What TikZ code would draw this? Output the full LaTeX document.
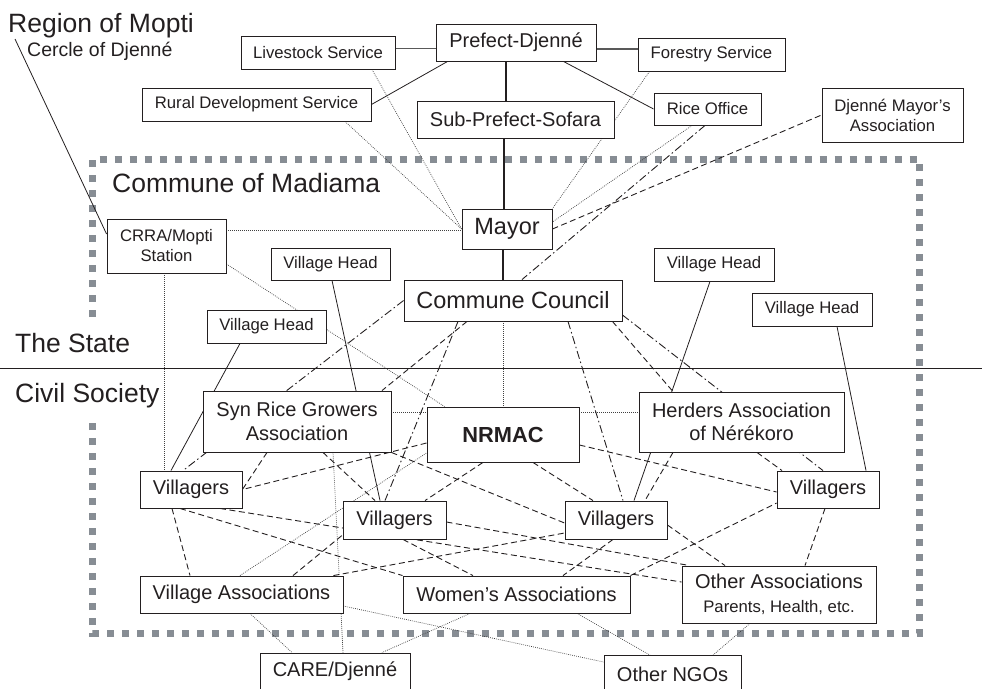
\documentclass[tikz,border=0pt]{standalone}
\usepackage{fontspec}
\setmainfont{Liberation Sans}
\usetikzlibrary{backgrounds}
\definecolor{txt}{HTML}{231F20}
\definecolor{framegray}{HTML}{878D94}
\begin{document}
\begin{tikzpicture}[x=1pt,y=-1pt,
  box/.style={draw=txt, line width=0.9pt, fill=white, inner sep=0pt, align=center, text=txt},
  sm/.style={font=\fontsize{16.7}{20}\selectfont},
  md/.style={font=\fontsize{20}{23.5}\selectfont},
  lg/.style={font=\fontsize{23.5}{27}\selectfont},
  bx/.style 2 args={minimum width=#1pt, minimum height=#2pt},
  lbl/.style={inner sep=0pt, anchor=base west, text=txt},
  gline/.style={draw=black!65, line width=1.8pt},
  sline/.style={draw=txt, line width=0.8pt},
  tline/.style={draw=txt, line width=2.8pt},
  dline/.style={draw=black!75, line width=0.7pt, dash pattern=on 0.8pt off 1.2pt},
  eline/.style={draw=txt, line width=0.9pt, dash pattern=on 6pt off 3.5pt},
  fline/.style={draw=txt, line width=0.9pt, dash pattern=on 8pt off 3pt on 1.5pt off 3pt},
  frame/.style={draw=framegray, line width=7pt, dash pattern=on 7pt off 8pt}
]
\useasboundingbox (0,0) rectangle (982,688);

% boxes
\node[box,sm,bx={154}{33}] (liv) at (318,52.5) {Livestock Service};
\node[box,md,bx={160}{37}] (pref) at (516,42.5) {Prefect-Djenné};
\node[box,sm,bx={147}{33}] (fors) at (711.5,54.5) {Forestry Service};
\node[box,sm,bx={229}{33}] (rur) at (256.5,104.5) {Rural Development Service};
\node[box,md,bx={197}{37}] (sub) at (515.5,119.5) {Sub-Prefect-Sofara};
\node[box,sm,bx={107}{32}] (rice) at (707.5,109) {Rice Office};
\node[box,sm,bx={141}{54}] (dma) at (892.5,115) {Djenné Mayor’s\\Association};
\node[box,lg,bx={90}{40}] (mayor) at (507,229) {Mayor};
\node[box,sm,bx={119}{54}] (crra) at (166.5,246) {CRRA/Mopti\\Station};
\node[box,sm,bx={119}{32}] (vha) at (330.5,264) {Village Head};
\node[box,lg,bx={218}{41}] (cc) at (513,300.5) {Commune Council};
\node[box,sm,bx={119}{33}] (vhb) at (266.5,326.5) {Village Head};
\node[box,sm,bx={120}{33}] (vhc) at (714,264.5) {Village Head};
\node[box,sm,bx={120}{33}] (vhd) at (812,309.5) {Village Head};
\node[box,md,bx={188}{61}] (srg) at (297,421.5) {Syn Rice Growers\\Association};
\node[box,bx={152}{55},font=\fontsize{21.8}{25}\selectfont\bfseries] (nrmac) at (503,434.5) {NRMAC};
\node[box,md,bx={205}{60}] (herd) at (741.5,422) {Herders Association\\of Nérékoro};
\node[box,md,bx={102}{37}] (vL) at (191,489.5) {Villagers};
\node[box,md,bx={103}{38}] (vCL) at (394.5,520) {Villagers};
\node[box,md,bx={102}{38}] (vCR) at (616,520) {Villagers};
\node[box,md,bx={102}{37}] (vR) at (828,489.5) {Villagers};
\node[box,md,bx={203}{37}] (va) at (241.5,594.5) {Village Associations};
\node[box,md,bx={227}{37}] (wom) at (516.5,594.5) {Women’s Associations};
\node[box,md,bx={194}{57}] (oa) at (779,594.5) {Other Associations\\{\fontsize{16.7}{20}\selectfont Parents, Health, etc.}};
\node[box,md,bx={150}{37}] (care) at (335,671.5) {CARE/Djenné};
\node[box,md,bx={137}{37}] (ngo) at (672.5,674) {Other NGOs};

% labels
\node[lbl,font=\fontsize{26.5}{30}\selectfont] (reg) at (8,32) {Region of Mopti};
\node[lbl,font=\fontsize{19.5}{23}\selectfont] (cer) at (27,56) {Cercle of Djenné};
\node[lbl,font=\fontsize{26.5}{30}\selectfont] (com) at (112,192) {Commune of Madiama};
\node[lbl,font=\fontsize{26.5}{30}\selectfont] (st) at (15,352) {The State};
\node[lbl,font=\fontsize{26.5}{30}\selectfont] (cs) at (15,402) {Civil Society};
\coordinate (rm) at (15,39);

\begin{scope}[on background layer]
% commune frame and state/civil society divider
\draw[frame] (92.5,317) -- (92.5,159) -- (919.5,159) -- (919.5,633.5) -- (92.5,633.5) -- (92.5,422);
\draw[sline] (0,368) -- (982,368);

% grey solid
\draw[gline] ([yshift=-6pt]pref.west) -- ([yshift=-6pt]pref.west -| liv.east);
\draw[gline] ([yshift=-6.5pt]pref.east) -- ([yshift=-6.5pt]pref.east -| fors.west);

% thin solid
\draw[sline] ([xshift=12pt]pref.south west) -- (rur.east);
\draw[sline] ([xshift=-33pt]pref.south east) -- (rice.west);
\draw[sline] ([xshift=1.5pt]vha.south) -- ([xshift=-14.5pt]vCL.north);
\draw[sline] ([xshift=-26.5pt]vhb.south) -- ([xshift=-20pt]vL.north);
\draw[sline] ([xshift=-4pt]vhc.south) -- ([xshift=18pt]vCR.north);
\draw[sline] ([xshift=25pt]vhd.south) -- ([xshift=38pt]vR.north);
\draw[sline] (rm) -- ([yshift=12pt]crra.west);

% thick
\draw[tline] ([xshift=-10pt]pref.south) -- ([xshift=-9.5pt]sub.north);
\draw[tline] ([xshift=-11.5pt]sub.south) -- ([xshift=-3pt]mayor.north);
\draw[tline] ([xshift=-4pt]mayor.south) -- ([xshift=-10pt]cc.north);

% dotted
\draw[dline] ([xshift=54pt]liv.south) -- (mayor.west);
\draw[dline] ([xshift=88.5pt]rur.south) -- (mayor.west);
\draw[dline] ([yshift=16pt]crra.east) -- ([yshift=16pt]crra.east -| mayor.west);
\draw[dline] ([xshift=12pt]fors.south west) -- (mayor.north east);
\draw[dline] ([xshift=-15.5pt]rice.south) -- ([yshift=7pt]mayor.east);
\draw[dline] ([xshift=-10pt]cc.south) -- ([xshift=-10pt]cc.south |- nrmac.north);
\draw[dline] ([yshift=9.5pt]srg.east) -- ([yshift=9.5pt]srg.east -| nrmac.west);
\draw[dline] ([yshift=22.5pt]nrmac.east) -- ([yshift=22.5pt]nrmac.east -| herd.west);
\draw[dline] ([xshift=-2.5pt]crra.south) -- ([xshift=-2.5pt]crra.south |- vL.north);
\draw[dline] ([yshift=-18pt]crra.east) -- ([xshift=18pt]nrmac.north west);
\draw[dline] ([xshift=36pt]srg.south) -- ([xshift=8pt]care.north);
\draw[dline] ([xshift=-1.5pt]va.north) -- ([yshift=-18.5pt]nrmac.west);
\draw[dline] ([xshift=8.5pt]va.south) -- ([xshift=-43pt]care.north);
\draw[dline] ([xshift=-46.5pt]wom.south) -- ([xshift=47pt]care.north);
\draw[dline] ([yshift=-11.5pt]va.east) -- ([yshift=12pt]ngo.west);
\draw[dline] ([xshift=60.5pt]wom.south) -- ([xshift=-22.5pt]ngo.north);
\draw[dline] ([xshift=-29pt]oa.south) -- ([xshift=40.5pt]ngo.north);

% dashed
\draw[eline] (mayor.east) -- (dma.west);
\draw[eline] ([xshift=-46pt]cc.south) -- ([xshift=85pt]srg.north);
\draw[eline] ([yshift=-8.5pt]nrmac.west) -- (vL.east);
\draw[eline] ([xshift=-30pt]srg.south) -- (vL.east);
\draw[eline] (srg.south east) -- ([yshift=-3pt]vCR.west);
\draw[eline] ([xshift=26pt]srg.south) -- ([xshift=-19.5pt]vCL.north);
\draw[eline] ([xshift=-20pt]nrmac.south) -- ([xshift=30.5pt]vCL.north);
\draw[eline] ([xshift=30pt]nrmac.south) -- ([xshift=-23pt]vCR.north);
\draw[eline] ([yshift=-10.5pt]nrmac.east) -- ([yshift=-2.5pt]vR.west);
\draw[eline] ([xshift=-10pt]cc.south east) -- ([xshift=-68.5pt]herd.north);
\draw[eline] ([xshift=15.5pt]herd.south) -- ([xshift=-46pt]vR.north);
\draw[eline] ([xshift=-68.5pt]herd.south) -- ([xshift=29pt]vCR.north);
\draw[eline] ([xshift=-19pt]vL.south) -- ([xshift=-51.5pt]va.north);
\draw[eline] ([xshift=-11pt]vL.south) -- (wom.north west);
\draw[eline] ([xshift=29pt]vL.south) -- ([yshift=12.5pt]oa.west);
\draw[eline] ([yshift=-2pt]vCL.east) -- ([xshift=8pt]oa.north west);
\draw[eline] ([xshift=8.5pt]vCL.south) -- ([xshift=-43.5pt]wom.north);
\draw[eline] ([xshift=51.5pt]va.north) -- ([yshift=-15pt]vCL.west);
\draw[eline] ([xshift=-10pt]va.north east) -- ([yshift=-13pt]vCR.west);
\draw[eline] ([xshift=-3pt]vCR.south) -- ([xshift=46.5pt]wom.north);
\draw[eline] ([yshift=-5pt]vCR.east) -- ([xshift=-54pt]oa.north);
\draw[eline] (wom.north east) -- ([yshift=-13.5pt]vR.west);
\draw[eline] ([xshift=-3pt]vR.south) -- ([xshift=26pt]oa.north);

% dash-dot
\draw[fline] ([xshift=-2.5pt]rice.south) -- ([xshift=9pt]cc.north);
\draw[fline] (cc.west) -- ([xshift=-8pt]vL.north);
\draw[fline] ([xshift=-55pt]cc.south) -- ([xshift=-9.5pt]vCL.north);
\draw[fline] ([xshift=55pt]cc.south) -- ([xshift=7pt]vCR.north);
\draw[fline] ([yshift=-14.5pt]cc.east) -- ([xshift=-5pt]vR.north);
\end{scope}
\end{tikzpicture}
\end{document}
